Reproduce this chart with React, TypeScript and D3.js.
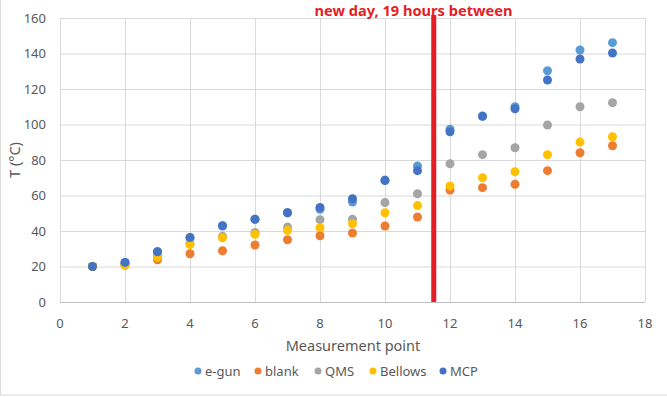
import React from "react";
import * as d3 from "d3";

const points = d3.range(1, 18);
const xTicks = [0, 2, 4, 6, 8, 10, 12, 14, 16, 18];
const yTicks = [0, 20, 40, 60, 80, 100, 120, 140, 160];

const eGun = [20, 22.3, 28.3, 36, 42.8, 46.6, 50.3, 52.2, 56.3, 68.7, 76.6, 97.3, 104.8, 110, 130.3, 142, 146.1];
const blank = [20, 21, 23.8, 27.2, 28.9, 32.1, 35.1, 37.3, 38.9, 42.8, 47.9, 63.1, 64.4, 66.3, 74, 84.1, 88];
const qms = [20, 21, 26, 33, 37, 39.2, 42.2, 46.4, 46.6, 56, 61, 77.9, 83, 86.9, 99.7, 110, 112.3];
const bellows = [20, 20.5, 25.2, 32.3, 36.2, 38.1, 40.4, 41.8, 44.1, 50.3, 54.3, 65.4, 70, 73.4, 83, 90.1, 93.1];
const mcp = [20, 22.3, 28.3, 36.4, 43, 46.6, 50.3, 53.3, 58.2, 68.4, 74, 95.9, 104.6, 108.9, 125.1, 136.9, 140.3];

const seriesNames = ["e-gun", "blank", "QMS", "Bellows", "MCP"];
const seriesColors = ["#5B9BD5", "#ED7D31", "#A5A5A5", "#FFC000", "#4472C4"];
const seriesValues = [eGun, blank, qms, bellows, mcp];

const breakAt = 11.5;
const annotation = "new day, 19 hours between";

const W = 667, H = 397;
const font = "'Noto Sans', 'Liberation Sans', sans-serif";

export default function App() {
  const x = d3.scaleLinear().domain([0, 18]).range([60, 645]);
  const y = d3.scaleLinear().domain([0, 160]).range([302, 18]);

  const legendX = [198, 258, 318, 373, 443];

  return (
    <svg width={W} height={H} style={{ position: "absolute", left: 0, top: 0, display: "block" }}>
      <rect x={0} y={0} width={W} height={H} fill="#fff" />
      <rect x={0.5} y={-1} width={W + 2} height={396} fill="none" stroke="#d9d9d9" />
      {yTicks.map((t) => (
        <line key={"gy" + t} x1={x(0)} x2={x(18)} y1={y(t) + 0.5} y2={y(t) + 0.5} stroke="#d9d9d9" />
      ))}
      {xTicks.map((t) => (
        <line key={"gx" + t} x1={x(t) + 0.5} x2={x(t) + 0.5} y1={y(0)} y2={y(160)} stroke="#d9d9d9" />
      ))}
      <line x1={x(0)} x2={x(18)} y1={y(0) + 0.5} y2={y(0) + 0.5} stroke="#bfbfbf" />
      {yTicks.map((t) => (
        <text key={"ly" + t} x={46} y={y(t)} dy="0.35em" textAnchor="end" fontSize={13} fill="#595959" fontFamily={font}>
          {t}
        </text>
      ))}
      {xTicks.map((t) => (
        <text key={"lx" + t} x={x(t)} y={323} dy="0.35em" textAnchor="middle" fontSize={13} fill="#595959" fontFamily={font}>
          {t}
        </text>
      ))}
      <text x={353} y={346} dy="0.35em" textAnchor="middle" fontSize={14.5} fill="#595959" fontFamily={font}>
        Measurement point
      </text>
      <text transform={`translate(15,${(y(0) + y(160)) / 2}) rotate(-90)`} dy="0.35em" textAnchor="middle" fontSize={14.5} fill="#595959" fontFamily={font}>
        T (°C)
      </text>
      {seriesValues.map((vals, si) => (
        <g key={"s" + si}>
          {vals.map((v, i) => (
            <circle key={i} cx={x(points[i])} cy={y(v)} r={4.5} fill={seriesColors[si]} />
          ))}
        </g>
      ))}
      <line x1={x(breakAt)} x2={x(breakAt)} y1={15} y2={y(0)} stroke="#E31E24" strokeWidth={5} />
      <text x={413.5} y={11} dy="0.35em" textAnchor="middle" fontSize={14.6} fontWeight="bold" fill="#E31E24" fontFamily={font}>
        {annotation}
      </text>
      {seriesNames.map((n, i) => (
        <g key={"lg" + i}>
          <circle cx={legendX[i]} cy={371} r={3.5} fill={seriesColors[i]} />
          <text x={legendX[i] + 7} y={371} dy="0.35em" fontSize={13} fill="#595959" fontFamily={font}>
            {n}
          </text>
        </g>
      ))}
    </svg>
  );
}
